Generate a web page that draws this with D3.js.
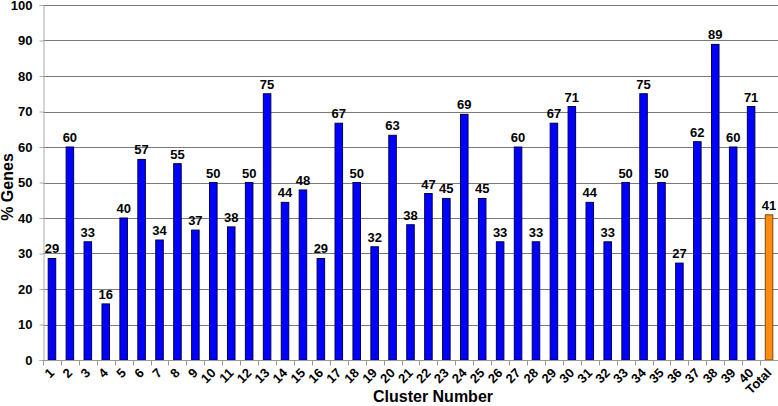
<!DOCTYPE html>
<html>
<head>
<meta charset="utf-8">
<script src="https://cdn.jsdelivr.net/npm/d3@7"></script>
<style>
  body { margin: 0; background: #fff; }
  svg { display: block; font-family: "Liberation Sans", Arial, sans-serif; }
</style>
</head>
<body>
<script>
var width = 778, height = 406;
var margin = {top: 5, right: 0, bottom: 46, left: 43};

// cluster names and percentage of genes
var clusters = ["1","2","3","4","5","6","7","8","9","10","11","12","13","14","15","16","17","18","19","20",
                "21","22","23","24","25","26","27","28","29","30","31","32","33","34","35","36","37","38","39","40","Total"];
var pctGenes = [28.6, 60, 33.3, 15.8, 40, 56.5, 33.8, 55.3, 36.6, 50, 37.5, 50, 75, 44.4, 47.9, 28.6, 66.7, 50, 31.9, 63.3,
                38.1, 46.9, 45.5, 69.2, 45.5, 33.3, 60, 33.3, 66.7, 71.4, 44.4, 33.3, 50, 75, 50, 27.3, 61.5, 88.9, 60, 71.4, 40.9];
var valueLabels = ["29","60","33","16","40","57","34","55","37","50","38","50","75","44","48","29","67","50","32","63",
                   "38","47","45","69","45","33","60","33","67","71","44","33","50","75","50","27","62","89","60","71","41"];
var yTicks = [0, 10, 20, 30, 40, 50, 60, 70, 80, 90, 100];

var svg = d3.select("body").append("svg")
            .attr("width", width)
            .attr("height", height);

var x = d3.scaleBand()
    .domain(clusters)
    .range([margin.left, width - margin.right])
    .paddingInner(0.58)
    .paddingOuter(0.29);

var y = d3.scaleLinear()
    .domain([0, 100])
    .range([height - margin.bottom, margin.top]);

// gridlines
svg.append("g")
    .selectAll("line")
    .data(yTicks.filter(function(d){ return d > 0; }))
    .enter()
    .append("line")
    .attr("x1", margin.left)
    .attr("x2", width)
    .attr("y1", function(d){ return Math.round(y(d)) + 0.5; })
    .attr("y2", function(d){ return Math.round(y(d)) + 0.5; })
    .attr("stroke", "#7a7a7a")
    .attr("stroke-width", 1.2);

// y axis
var yAxis = svg.append("g")
    .attr("transform", "translate(" + (margin.left + 0.5) + ",0)")
    .call(d3.axisLeft(y).tickValues(yTicks).tickSize(4).tickPadding(7));
yAxis.select(".domain").attr("stroke", "#aaa");
yAxis.selectAll(".tick line").attr("stroke", "#aaa");
yAxis.selectAll("text")
    .attr("fill", "#000")
    .style("font-size", "13px")
    .style("font-weight", "bold");

// bars
svg.append("g")
    .selectAll("rect")
    .data(clusters)
    .enter()
    .append("rect")
    .attr("x", function(d){ return x(d); })
    .attr("y", function(d, i){ return y(pctGenes[i]); })
    .attr("width", x.bandwidth())
    .attr("height", function(d, i){ return y(0) - y(pctGenes[i]); })
    .attr("fill", function(d){ return d == "Total" ? "#ff8c0f" : "#0000ff"; })
    .attr("stroke", function(d){ return d == "Total" ? "#7a4a10" : "#00004a"; })
    .attr("stroke-width", 1);

// value labels
svg.append("g")
    .selectAll("text")
    .data(clusters)
    .enter()
    .append("text")
    .attr("x", function(d){ return x(d) + x.bandwidth() / 2; })
    .attr("y", function(d, i){ return y(pctGenes[i]) - 5; })
    .attr("text-anchor", "middle")
    .style("font-size", "13px")
    .style("font-weight", "bold")
    .text(function(d, i){ return valueLabels[i]; });

// x axis
var step = x.step();
var xAxisG = svg.append("g")
    .attr("transform", "translate(0," + (Math.round(y(0)) + 0.5) + ")");
xAxisG.append("line")
    .attr("x1", margin.left)
    .attr("x2", width)
    .attr("stroke", "#999");
xAxisG.selectAll(".tk")
    .data(clusters)
    .enter()
    .append("line")
    .attr("class", "tk")
    .attr("x1", function(d){ return Math.round(x(d) + x.bandwidth() / 2 - step / 2) + 0.5; })
    .attr("x2", function(d){ return Math.round(x(d) + x.bandwidth() / 2 - step / 2) + 0.5; })
    .attr("y2", 5)
    .attr("stroke", "#999");
xAxisG.selectAll("text")
    .data(clusters)
    .enter()
    .append("text")
    .attr("transform", function(d){
        return "translate(" + (x(d) + x.bandwidth() / 2) + ",10) rotate(-45)";
    })
    .attr("text-anchor", "end")
    .attr("dy", "0.35em")
    .style("font-size", "13px")
    .style("font-weight", "bold")
    .text(function(d){ return d; });

// axis titles
svg.append("text")
    .attr("x", 433)
    .attr("y", 402)
    .attr("text-anchor", "middle")
    .style("font-size", "16px")
    .style("font-weight", "bold")
    .text("Cluster Number");

svg.append("text")
    .attr("transform", "translate(13,187) rotate(-90)")
    .attr("text-anchor", "middle")
    .style("font-size", "16px")
    .style("font-weight", "bold")
    .text("% Genes");
</script>
</body>
</html>
